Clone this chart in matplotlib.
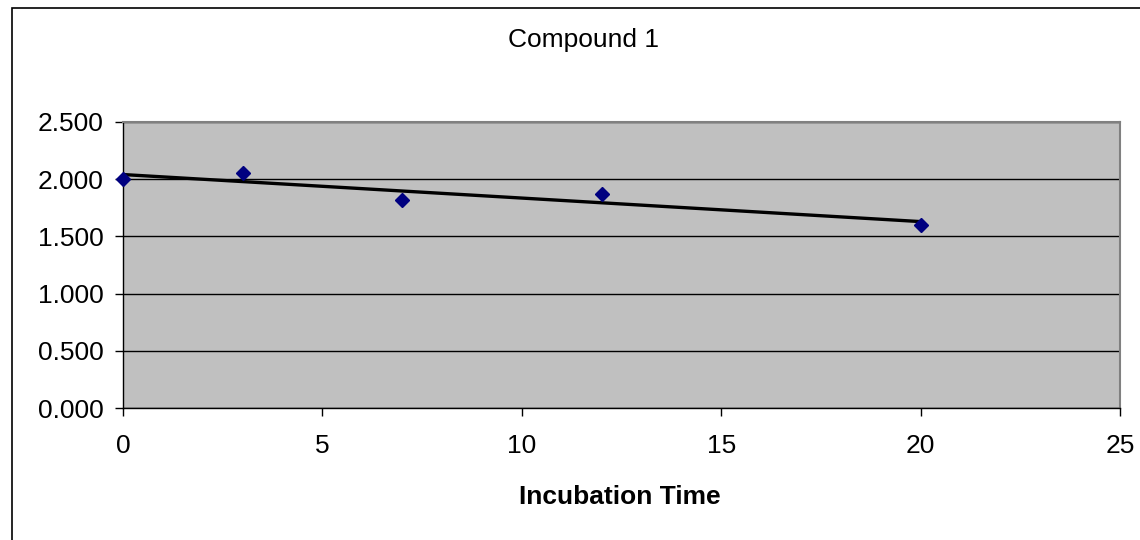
import numpy as np
import matplotlib.pyplot as plt
from matplotlib.patches import Rectangle

# données
temps = [0, 3, 7, 12, 20]
valeurs = [2.00, 2.05, 1.82, 1.87, 1.60]
titre = "Compound 1"
label_x = "Incubation Time"

plt.rcParams['font.family'] = ['Liberation Sans', 'DejaVu Sans']

fig = plt.figure(figsize=(11.4, 5.4), dpi=100)
W, H = 1140, 540
ax = fig.add_axes([123 / W, 1 - 408 / H, (1120 - 123) / W, (408 - 122) / H])
ax.set_facecolor('#c0c0c0')

# cadre extérieur du graphique
fig.patches.append(Rectangle((12 / W, -0.1), 1.2, 1 - 8 / H + 0.1, transform=fig.transFigure,
                             fill=False, edgecolor='black', linewidth=1.2))

# courbe de tendance linéaire
pente, origine = np.polyfit(temps, valeurs, 1)
x_tend = np.array([0, 20])
ax.plot(x_tend, pente * x_tend + origine, color='black', linewidth=2.4, zorder=3)

ax.plot(temps, valeurs, linestyle='none', marker='D', markersize=7.5,
        color='#000080', zorder=4, clip_on=False)

ax.set_xlim(0, 25)
ax.set_ylim(0, 2.5)
ax.set_xticks(np.arange(0, 26, 5))
ax.set_yticks(np.arange(0, 2.51, 0.5))
ax.set_yticklabels([f'{v:.3f}' for v in np.arange(0, 2.51, 0.5)])
ax.yaxis.grid(True, color='black', linewidth=1)
ax.set_axisbelow(True)

for s in ['top', 'right']:
    ax.spines[s].set_color('#808080')
    ax.spines[s].set_linewidth(1.5)
for s in ['left', 'bottom']:
    ax.spines[s].set_color('black')
    ax.spines[s].set_linewidth(1)

ax.tick_params(axis='both', direction='out', length=6, width=1, labelsize=19, color='black')
ax.tick_params(axis='x', pad=13)
ax.tick_params(axis='y', pad=8)

fig.text(584 / W, 1 - 40 / H, titre, ha='center', va='center', fontsize=19)
fig.text(620 / W, 1 - 497 / H, label_x, ha='center', va='center', fontsize=19, fontweight='bold')

fig.savefig('out.png', dpi=100)
